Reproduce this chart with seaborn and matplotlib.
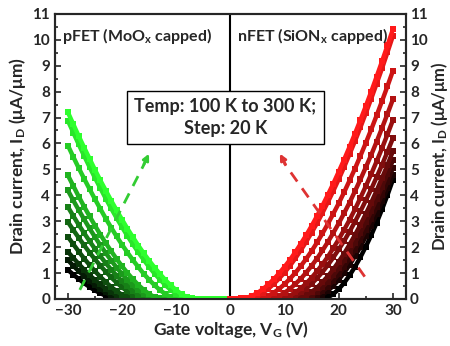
import numpy as np
import pandas as pd
import matplotlib
matplotlib.use("Agg")
import matplotlib.pyplot as plt
import seaborn as sns
from matplotlib.ticker import MultipleLocator

sns.set_style("ticks")
plt.rcParams["font.family"] = ["Lato", "DejaVu Sans"]
plt.rcParams["font.weight"] = "bold"
plt.rcParams["mathtext.fontset"] = "custom"
plt.rcParams["mathtext.rm"] = "Lato:bold"
plt.rcParams["mathtext.bf"] = "Lato:bold"
plt.rcParams["mathtext.it"] = "Lato:bold"
plt.rcParams["mathtext.default"] = "bf"

# ---------------- data ----------------
temps = [100, 120, 140, 160, 180, 200, 220, 240, 260, 280, 300]

vg_p = [-30, -29, -28, -27, -26, -25, -24, -23, -22, -21, -20, -19, -18, -17, -16, -15,
        -14, -13, -12, -11, -10, -9, -8, -7, -6, -5, -4, -3, -2, -1, 0]
vg_n = [0, 1, 2, 3, 4, 5, 6, 7, 8, 9, 10, 11, 12, 13, 14, 15,
        16, 17, 18, 19, 20, 21, 22, 23, 24, 25, 26, 27, 28, 29, 30]

# pFET drain current (uA/um), V_G = -30 ... 0
p_100 = [1.12, 0.94, 0.77, 0.61, 0.46, 0.33, 0.22, 0.12, 0.04, 0.02, 0.01,
         0, 0, 0, 0, 0, 0, 0, 0, 0, 0, 0, 0, 0, 0, 0, 0, 0, 0, 0, 0]
p_120 = [1.50, 1.28, 1.07, 0.88, 0.70, 0.53, 0.38, 0.25, 0.13, 0.05, 0.02, 0.01,
         0, 0, 0, 0, 0, 0, 0, 0, 0, 0, 0, 0, 0, 0, 0, 0, 0, 0, 0]
p_140 = [1.82, 1.58, 1.35, 1.13, 0.92, 0.73, 0.56, 0.40, 0.26, 0.14, 0.05, 0.02, 0.01,
         0, 0, 0, 0, 0, 0, 0, 0, 0, 0, 0, 0, 0, 0, 0, 0, 0, 0]
p_160 = [2.40, 2.11, 1.83, 1.56, 1.31, 1.07, 0.85, 0.65, 0.46, 0.30, 0.16, 0.06, 0.02, 0.01,
         0, 0, 0, 0, 0, 0, 0, 0, 0, 0, 0, 0, 0, 0, 0, 0, 0]
p_180 = [2.97, 2.66, 2.36, 2.07, 1.79, 1.53, 1.28, 1.05, 0.83, 0.63, 0.45, 0.29, 0.16, 0.06,
         0.02, 0.01, 0, 0, 0, 0, 0, 0, 0, 0, 0, 0, 0, 0, 0, 0, 0]
p_200 = [3.55, 3.20, 2.86, 2.54, 2.23, 1.93, 1.65, 1.38, 1.13, 0.90, 0.68, 0.49, 0.32, 0.17,
         0.06, 0.02, 0.01, 0, 0, 0, 0, 0, 0, 0, 0, 0, 0, 0, 0, 0, 0]
p_220 = [4.19, 3.80, 3.43, 3.07, 2.72, 2.39, 2.07, 1.77, 1.48, 1.21, 0.96, 0.73, 0.52, 0.34,
         0.19, 0.07, 0.03, 0.01, 0, 0, 0, 0, 0, 0, 0, 0, 0, 0, 0, 0, 0]
p_240 = [4.77, 4.36, 3.95, 3.56, 3.19, 2.83, 2.48, 2.15, 1.84, 1.54, 1.26, 1.00, 0.76, 0.54,
         0.35, 0.19, 0.07, 0.03, 0.01, 0, 0, 0, 0, 0, 0, 0, 0, 0, 0, 0, 0]
p_260 = [5.92, 5.48, 5.05, 4.64, 4.24, 3.85, 3.47, 3.10, 2.75, 2.41, 2.09, 1.79, 1.50, 1.23,
         0.97, 0.74, 0.53, 0.34, 0.19, 0.07, 0.03, 0.01, 0, 0, 0, 0, 0, 0, 0, 0, 0]
p_280 = [6.88, 6.42, 5.96, 5.52, 5.09, 4.67, 4.27, 3.87, 3.49, 3.12, 2.77, 2.43, 2.11, 1.80,
         1.51, 1.23, 0.98, 0.75, 0.53, 0.35, 0.19, 0.07, 0.03, 0.01, 0, 0, 0, 0, 0, 0, 0]
p_300 = [7.20, 6.74, 6.28, 5.84, 5.41, 4.98, 4.57, 4.18, 3.79, 3.42, 3.06, 2.71, 2.38, 2.06,
         1.76, 1.48, 1.21, 0.96, 0.73, 0.52, 0.34, 0.18, 0.07, 0.03, 0.01, 0, 0, 0, 0, 0, 0]

# nFET drain current (uA/um), V_G = 0 ... 30
n_100 = [0, 0, 0, 0, 0, 0, 0, 0, 0, 0, 0, 0, 0, 0, 0, 0, 0.01, 0.02,
         0.06, 0.19, 0.38, 0.62, 0.91, 1.24, 1.61, 2.02, 2.46, 2.94, 3.46, 4.01, 4.60]
n_120 = [0, 0, 0, 0, 0, 0, 0, 0, 0, 0, 0, 0, 0, 0, 0.01, 0.02,
         0.05, 0.16, 0.31, 0.51, 0.74, 1.01, 1.31, 1.65, 2.01, 2.41, 2.83, 3.28, 3.76, 4.27, 4.80]
n_140 = [0, 0, 0, 0, 0, 0, 0, 0, 0, 0, 0, 0, 0, 0.01, 0.02,
         0.05, 0.15, 0.29, 0.48, 0.70, 0.95, 1.24, 1.55, 1.90, 2.27, 2.67, 3.10, 3.55, 4.02, 4.53, 5.05]
n_160 = [0, 0, 0, 0, 0, 0, 0, 0, 0, 0, 0, 0, 0.01, 0.02,
         0.04, 0.14, 0.28, 0.46, 0.67, 0.91, 1.18, 1.49, 1.82, 2.17, 2.55, 2.96, 3.39, 3.85, 4.33, 4.83, 5.35]
n_180 = [0, 0, 0, 0, 0, 0, 0, 0, 0, 0, 0, 0.01, 0.02,
         0.04, 0.14, 0.27, 0.44, 0.65, 0.88, 1.14, 1.44, 1.75, 2.10, 2.47, 2.86, 3.28, 3.72, 4.18, 4.67, 5.17, 5.70]
n_200 = [0, 0, 0, 0, 0, 0, 0, 0, 0, 0.01, 0.02,
         0.04, 0.12, 0.25, 0.40, 0.59, 0.80, 1.04, 1.31, 1.60, 1.91, 2.24, 2.60, 2.98, 3.38, 3.80, 4.24, 4.70,
         5.18, 5.68, 6.20]
n_220 = [0, 0, 0, 0, 0, 0, 0, 0, 0.01, 0.02,
         0.04, 0.13, 0.25, 0.41, 0.60, 0.82, 1.07, 1.34, 1.63, 1.96, 2.30, 2.67, 3.05, 3.46, 3.90, 4.35, 4.82,
         5.31, 5.82, 6.35, 6.90]
n_240 = [0, 0, 0, 0, 0, 0, 0.01, 0.02,
         0.04, 0.12, 0.24, 0.39, 0.58, 0.78, 1.02, 1.28, 1.56, 1.87, 2.20, 2.55, 2.92, 3.31, 3.72, 4.16, 4.61,
         5.08, 5.56, 6.07, 6.60, 7.14, 7.70]
n_260 = [0, 0, 0, 0, 0.01, 0.02,
         0.04, 0.12, 0.24, 0.39, 0.57, 0.78, 1.01, 1.27, 1.55, 1.85, 2.18, 2.53, 2.90, 3.29, 3.69, 4.12, 4.57,
         5.03, 5.52, 6.02, 6.54, 7.08, 7.64, 8.21, 8.80]
n_280 = [0, 0, 0.01, 0.02,
         0.04, 0.12, 0.24, 0.39, 0.58, 0.79, 1.02, 1.28, 1.57, 1.88, 2.21, 2.56, 2.93, 3.32, 3.74, 4.17, 4.62,
         5.09, 5.59, 6.09, 6.62, 7.17, 7.73, 8.31, 8.90, 9.52, 10.15]
n_300 = [0, 0.01, 0.02,
         0.04, 0.12, 0.23, 0.38, 0.56, 0.76, 0.99, 1.24, 1.51, 1.81, 2.13, 2.46, 2.82, 3.20, 3.60, 4.02, 4.45,
         4.91, 5.38, 5.87, 6.38, 6.90, 7.44, 8.00, 8.58, 9.17, 9.78, 10.40]

p_curves = [p_100, p_120, p_140, p_160, p_180, p_200, p_220, p_240, p_260, p_280, p_300]
n_curves = [n_100, n_120, n_140, n_160, n_180, n_200, n_220, n_240, n_260, n_280, n_300]

y_ticks = [0, 1, 2, 3, 4, 5, 6, 7, 8, 9, 10, 11]
x_ticks = [-30, -20, -10, 0, 10, 20, 30]

# ---------------- tables ----------------
rows_p = [(T, v, i) for T, vals in zip(temps, p_curves) for v, i in zip(vg_p, vals)]
rows_n = [(T, v, i) for T, vals in zip(temps, n_curves) for v, i in zip(vg_n, vals)]
df_p = pd.DataFrame(rows_p, columns=["T", "vg", "id"])
df_n = pd.DataFrame(rows_n, columns=["T", "vg", "id"])

fr = np.linspace(0, 1, len(temps))
green_pal = [(0.18 * f, f, 0.18 * f) for f in fr]
red_pal = [(f, 0.1 * f, 0.1 * f) for f in fr]

# ---------------- figure ----------------
fig = plt.figure(figsize=(4.5, 3.46), dpi=100)
ax = fig.add_axes([0.122, 0.136, 0.780, 0.824])

ax.axvline(0, color="black", lw=1.5, zorder=1)

for df, pal in ((df_p, green_pal), (df_n, red_pal)):
    for T, col in zip(temps, pal):
        sub = df[df["T"] == T]
        sns.lineplot(data=sub, x="vg", y="id", color=col, lw=3.2, ax=ax,
                     legend=False, zorder=3, solid_capstyle="butt")
        sns.scatterplot(data=sub, x="vg", y="id", color=col, marker="s",
                        s=24, linewidth=0, legend=False, ax=ax, zorder=3)

ax.set_xlim(-32.4, 32.4)
ax.set_ylim(0, 11)
ax.set_xticks(x_ticks)
ax.set_yticks(y_ticks)
ax.xaxis.set_minor_locator(MultipleLocator(5))
ax.yaxis.set_minor_locator(MultipleLocator(0.5))
ax.tick_params(which="both", direction="in", labelsize=11, width=1.2)
ax.tick_params(which="major", length=4)
ax.tick_params(which="minor", length=2)
for sp in ax.spines.values():
    sp.set_linewidth(1.5)
    sp.set_visible(True)

ax.set_xlabel("Gate voltage, V$_G$ (V)", fontsize=12.5, fontweight="bold", labelpad=1)
ax.set_ylabel("Drain current, I$_D$ (μA/μm)", fontsize=12.5, fontweight="bold", labelpad=3)

ax2 = ax.twinx()
ax2.set_ylim(0, 11)
ax2.set_yticks(y_ticks)
ax2.yaxis.set_minor_locator(MultipleLocator(0.5))
ax2.tick_params(which="both", direction="in", labelsize=11, width=1.2, pad=3)
ax2.tick_params(which="major", length=4)
ax2.tick_params(which="minor", length=2)
ax2.set_ylabel("Drain current, I$_D$ (μA/μm)", fontsize=12, fontweight="bold",
               rotation=90, labelpad=0.5)
for sp in ax2.spines.values():
    sp.set_linewidth(1.5)

ax.text(-31.0, 10.15, "pFET (MoO$_x$ capped)", fontsize=11.5, fontweight="bold",
        ha="left", va="center", zorder=5)
ax.text(1.2, 10.15, "nFET (SiON$_x$ capped)", fontsize=11.5, fontweight="bold",
        ha="left", va="center", zorder=5)

ax.text(-0.9, 7.0, "Temp: 100 K to 300 K;\nStep: 20 K", fontsize=13, fontweight="bold",
        ha="center", va="center", linespacing=1.3, zorder=6,
        bbox=dict(boxstyle="square,pad=0.4", fc="white", ec="black", lw=1.0))

# dashed arrows
g_col = (0.2, 0.8, 0.2)
r_col = (0.87, 0.2, 0.2)
ax.plot([-27.8, -15.8], [0.35, 5.25], ls=(0, (4, 3)), color=g_col, lw=2, zorder=4)
ax.annotate("", xy=(-14.8, 5.7), xytext=(-16.2, 5.1),
            arrowprops=dict(arrowstyle="-|>", color=g_col, lw=2, mutation_scale=9), zorder=4)
ax.plot([24.8, 9.9], [0.86, 5.25], ls=(0, (4, 3)), color=r_col, lw=2, zorder=4)
ax.annotate("", xy=(8.9, 5.7), xytext=(10.4, 5.1),
            arrowprops=dict(arrowstyle="-|>", color=r_col, lw=2, mutation_scale=9), zorder=4)

fig.savefig("out.png", dpi=100)
